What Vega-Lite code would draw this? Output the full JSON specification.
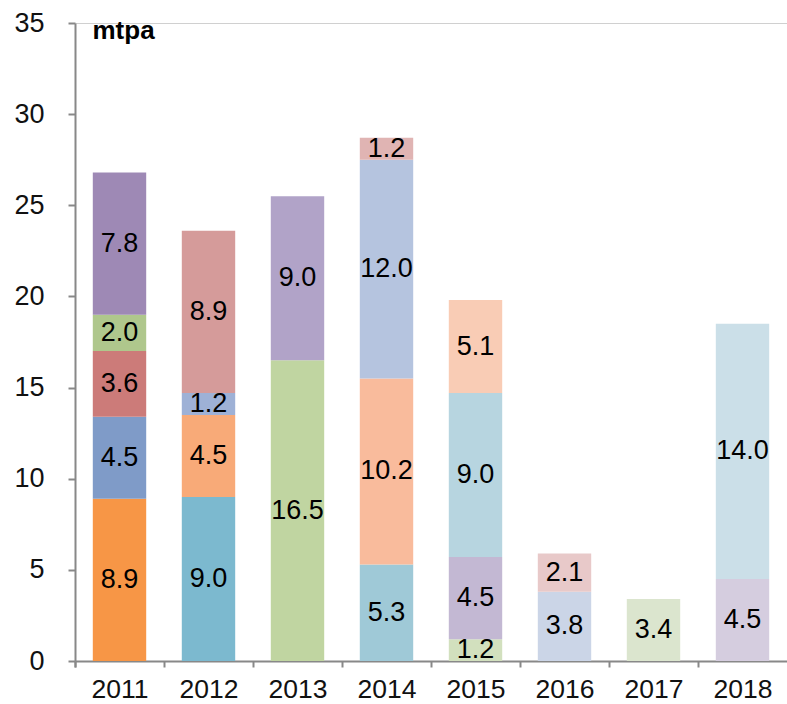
{
  "$schema": "https://vega.github.io/schema/vega-lite/v6.json",
  "width": 712,
  "height": 638,
  "autosize": {"type": "none"},
  "padding": {"left": 75, "top": 23, "right": 0, "bottom": 43},
  "background": "white",
  "config": {"view": {"stroke": null}, "font": "Liberation Sans"},
  "data": {
    "values": [
      {"year": "2011", "seg": "2011-1", "order": 1, "value": 8.9},
      {"year": "2011", "seg": "2011-2", "order": 2, "value": 4.5},
      {"year": "2011", "seg": "2011-3", "order": 3, "value": 3.6},
      {"year": "2011", "seg": "2011-4", "order": 4, "value": 2.0},
      {"year": "2011", "seg": "2011-5", "order": 5, "value": 7.8},
      {"year": "2012", "seg": "2012-1", "order": 1, "value": 9.0},
      {"year": "2012", "seg": "2012-2", "order": 2, "value": 4.5},
      {"year": "2012", "seg": "2012-3", "order": 3, "value": 1.2},
      {"year": "2012", "seg": "2012-4", "order": 4, "value": 8.9},
      {"year": "2013", "seg": "2013-1", "order": 1, "value": 16.5},
      {"year": "2013", "seg": "2013-2", "order": 2, "value": 9.0},
      {"year": "2014", "seg": "2014-1", "order": 1, "value": 5.3},
      {"year": "2014", "seg": "2014-2", "order": 2, "value": 10.2},
      {"year": "2014", "seg": "2014-3", "order": 3, "value": 12.0},
      {"year": "2014", "seg": "2014-4", "order": 4, "value": 1.2},
      {"year": "2015", "seg": "2015-1", "order": 1, "value": 1.2},
      {"year": "2015", "seg": "2015-2", "order": 2, "value": 4.5},
      {"year": "2015", "seg": "2015-3", "order": 3, "value": 9.0},
      {"year": "2015", "seg": "2015-4", "order": 4, "value": 5.1},
      {"year": "2016", "seg": "2016-1", "order": 1, "value": 3.8},
      {"year": "2016", "seg": "2016-2", "order": 2, "value": 2.1},
      {"year": "2017", "seg": "2017-1", "order": 1, "value": 3.4},
      {"year": "2018", "seg": "2018-1", "order": 1, "value": 4.5},
      {"year": "2018", "seg": "2018-2", "order": 2, "value": 14.0}
    ]
  },
  "transform": [
    {"stack": "value", "groupby": ["year"], "sort": [{"field": "order"}], "as": ["y0", "y1"]},
    {"calculate": "(datum.y0 + datum.y1) / 2", "as": "mid"}
  ],
  "encoding": {
    "x": {
      "field": "year", "type": "ordinal",
      "scale": {"paddingInner": 0.4, "paddingOuter": 0.2},
      "axis": {
        "title": null, "labelAngle": 0, "labelFontSize": 26.5, "labelColor": "#111",
        "labelPadding": 9, "domainColor": "#888", "domainWidth": 2,
        "tickColor": "#888", "tickWidth": 2, "tickSize": 6,
        "bandPosition": 0, "tickExtra": true, "tickOffset": -17.8, "labelOffset": 17.8
      }
    }
  },
  "layer": [
    {
      "mark": {"type": "bar"},
      "encoding": {
        "y": {
          "field": "y0", "type": "quantitative",
          "scale": {"domain": [0, 35]},
          "axis": {
            "values": [0, 5, 10, 15, 20, 25, 30, 35],
            "title": "mtpa", "titleAngle": 0, "titleX": 17, "titleY": 15,
            "titleAlign": "left", "titleBaseline": "alphabetic", "titleFontSize": 26,
            "titleFontWeight": "bold", "titleColor": "#000",
            "labelFontSize": 27, "labelColor": "#111", "labelPadding": 24,
            "domainColor": "#888", "domainWidth": 2, "tickColor": "#888",
            "tickWidth": 2, "tickSize": 7, "grid": true,
            "gridColor": {"condition": {"test": "datum.value === 35", "value": "#d0d0d0"}, "value": null},
            "gridWidth": 1
          }
        },
        "y2": {"field": "y1"},
        "color": {
          "field": "seg", "type": "nominal", "legend": null,
          "scale": {
            "domain": ["2011-1","2011-2","2011-3","2011-4","2011-5","2012-1","2012-2","2012-3","2012-4","2013-1","2013-2","2014-1","2014-2","2014-3","2014-4","2015-1","2015-2","2015-3","2015-4","2016-1","2016-2","2017-1","2018-1","2018-2"],
            "range": ["#F79646","#7F9BC8","#CC7B79","#AFC78C","#9E89B5","#7CB9CF","#F8AA78","#9EB1D6","#D59B9A","#C0D5A1","#B1A3C8","#9FC9D7","#F9BB9C","#B5C4DF","#E0B4B3","#D2E0BE","#C3B8D3","#B7D5E0","#F9CCB5","#CBD5E7","#E8C9C9","#DBE5CE","#D5CDDF","#CBDFE8"]
          }
        }
      }
    },
    {
      "mark": {"type": "text", "fontSize": 27, "color": "#000", "baseline": "middle"},
      "encoding": {
        "y": {"field": "mid", "type": "quantitative"},
        "text": {"field": "value", "type": "quantitative", "format": ".1f"}
      }
    }
  ]
}
